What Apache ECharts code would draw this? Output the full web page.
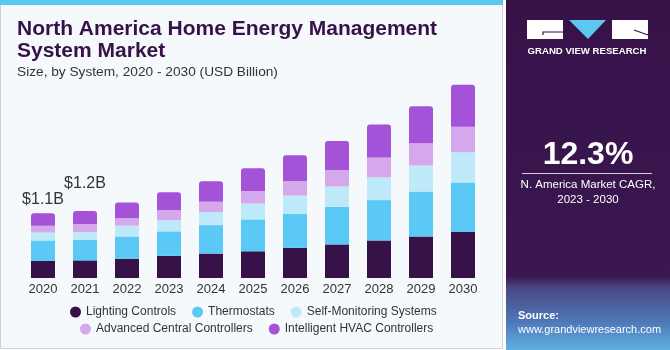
<!DOCTYPE html>
<html>
<head>
<meta charset="utf-8">
<script src="https://cdn.jsdelivr.net/npm/echarts@6/dist/echarts.min.js"></script>
<style>
    html, body { margin: 0; padding: 0; background: #fff; }
    #main { width: 670px; height: 350px; }
</style>
</head>
<body>
<div id="main"></div>
<script>
    // values in USD billion
    var years = ['2020', '2021', '2022', '2023', '2024', '2025', '2026', '2027', '2028', '2029', '2030'];
    var lighting = [0.30, 0.31, 0.34, 0.39, 0.43, 0.47, 0.53, 0.59, 0.66, 0.73, 0.81];
    var thermostats = [0.36, 0.36, 0.39, 0.43, 0.50, 0.56, 0.60, 0.66, 0.71, 0.79, 0.87];
    var selfMonitoring = [0.14, 0.14, 0.19, 0.20, 0.23, 0.28, 0.32, 0.36, 0.40, 0.46, 0.53];
    var advancedCentral = [0.12, 0.14, 0.13, 0.17, 0.18, 0.22, 0.25, 0.29, 0.35, 0.39, 0.45];
    var intelligentHvac = [0.22, 0.23, 0.28, 0.32, 0.36, 0.40, 0.46, 0.51, 0.58, 0.65, 0.74];
    var totalLabels = ['$1.1B', '$1.2B'];

    var names = ['Lighting Controls', 'Thermostats', 'Self-Monitoring Systems',
        'Advanced Central Controllers', 'Intelligent HVAC Controllers'];
    var colors = ['#361248', '#5bc9f5', '#bde9f9', '#d5a8eb', '#a452d8'];
    var values = [lighting, thermostats, selfMonitoring, advancedCentral, intelligentHvac];

    var chart = echarts.init(document.getElementById('main'));

    var series = values.map(function (arr, i) {
        var last = i === values.length - 1;
        return {
            name: names[i],
            type: 'bar',
            stack: 'total',
            barWidth: 24,
            itemStyle: {
                color: colors[i],
                borderRadius: last ? [3, 3, 0, 0] : 0
            },
            data: arr.map(function (v, j) {
                if (last && j < totalLabels.length) {
                    return {
                        value: v,
                        label: {
                            show: true,
                            position: 'top',
                            distance: j === 0 ? 6 : 19,
                            formatter: totalLabels[j],
                            fontSize: 16,
                            color: '#333'
                        }
                    };
                }
                return v;
            })
        };
    });

    var legendText = { fontSize: 12, color: '#333', fontFamily: 'Liberation Sans' };

    var option = {
        animation: false,
        textStyle: { fontFamily: 'Liberation Sans' },
        graphic: [
            // left panel
            { type: 'rect', z: -10, shape: { x: 0.5, y: 0.5, width: 502, height: 348 },
              style: { fill: '#f5f9fc', stroke: '#d2d2d2', lineWidth: 1 } },
            { type: 'rect', z: -9, shape: { x: 0, y: 0, width: 503, height: 5 },
              style: { fill: '#5bc8f0' } },
            // right panel
            { type: 'rect', z: -10, shape: { x: 506, y: 0, width: 164, height: 350 },
              style: { fill: new echarts.graphic.LinearGradient(0, 0, 0, 1, [
                  { offset: 0, color: '#371249' },
                  { offset: 0.79, color: '#3a1750' },
                  { offset: 0.82, color: '#4a4482' },
                  { offset: 0.92, color: '#4f78b8' },
                  { offset: 1, color: '#5fb0e2' }
              ]) } },
            // logo
            { type: 'rect', shape: { x: 527, y: 20, width: 36, height: 19 }, style: { fill: '#fff' } },
            { type: 'polyline', shape: { points: [[543, 35], [543, 32], [563, 32]] },
              style: { stroke: '#371249', lineWidth: 1.2, fill: null } },
            { type: 'polygon', shape: { points: [[569, 20], [606, 20], [588, 39]] }, style: { fill: '#5bc8f0' } },
            { type: 'rect', shape: { x: 612, y: 20, width: 36, height: 19 }, style: { fill: '#fff' } },
            { type: 'line', shape: { x1: 634, y1: 30, x2: 648, y2: 35 },
              style: { stroke: '#371249', lineWidth: 1.2 } },
            { type: 'text', x: 587, y: 51, style: { text: 'GRAND VIEW RESEARCH', fill: '#fff',
              font: 'bold 9.6px "Liberation Sans"', align: 'center', verticalAlign: 'middle' } },
            // CAGR
            { type: 'text', x: 588, y: 155, style: { text: '12.3%', fill: '#fff',
              font: 'bold 32px "Liberation Sans"', align: 'center', verticalAlign: 'middle' } },
            { type: 'line', shape: { x1: 522, y1: 173.5, x2: 652, y2: 173.5 },
              style: { stroke: '#d8d0e0', lineWidth: 1 } },
            { type: 'text', x: 588, y: 185, style: { text: 'N. America Market CAGR,', fill: '#fff',
              font: '11.5px "Liberation Sans"', align: 'center', verticalAlign: 'middle' } },
            { type: 'text', x: 588, y: 200, style: { text: '2023 - 2030', fill: '#fff',
              font: '11.5px "Liberation Sans"', align: 'center', verticalAlign: 'middle' } },
            // source
            { type: 'text', x: 518, y: 316, style: { text: 'Source:', fill: '#fff',
              font: 'bold 11px "Liberation Sans"', verticalAlign: 'middle' } },
            { type: 'text', x: 518, y: 330, style: { text: 'www.grandviewresearch.com', fill: '#fff',
              font: '11px "Liberation Sans"', verticalAlign: 'middle' } },
            // title
            { type: 'text', x: 17, y: 29, style: { text: 'North America Home Energy Management', fill: '#361248',
              font: 'bold 21px "Liberation Sans"', verticalAlign: 'middle' } },
            { type: 'text', x: 17, y: 51, style: { text: 'System Market', fill: '#361248',
              font: 'bold 21px "Liberation Sans"', verticalAlign: 'middle' } },
            { type: 'text', x: 17, y: 72, style: { text: 'Size, by System, 2020 - 2030 (USD Billion)', fill: '#333',
              font: '13.7px "Liberation Sans"', verticalAlign: 'middle' } }
        ],
        legend: [
            {
                data: names.slice(0, 3),
                left: 70, top: 306,
                icon: 'circle', itemWidth: 11, itemHeight: 11, itemGap: 16,
                padding: 0, textStyle: legendText
            },
            {
                data: names.slice(3),
                left: 80, top: 323,
                icon: 'circle', itemWidth: 11, itemHeight: 11, itemGap: 16,
                padding: 0, textStyle: legendText
            }
        ],
        grid: { left: 22, right: 186, top: 79, bottom: 72 },
        xAxis: {
            type: 'category',
            data: years,
            axisLine: { show: false },
            axisTick: { show: false },
            axisLabel: { color: '#333', fontSize: 13, margin: 5 }
        },
        yAxis: {
            type: 'value',
            min: 0,
            max: 3.5,
            show: false
        },
        series: series
    };

    chart.setOption(option);
</script>
</body>
</html>
